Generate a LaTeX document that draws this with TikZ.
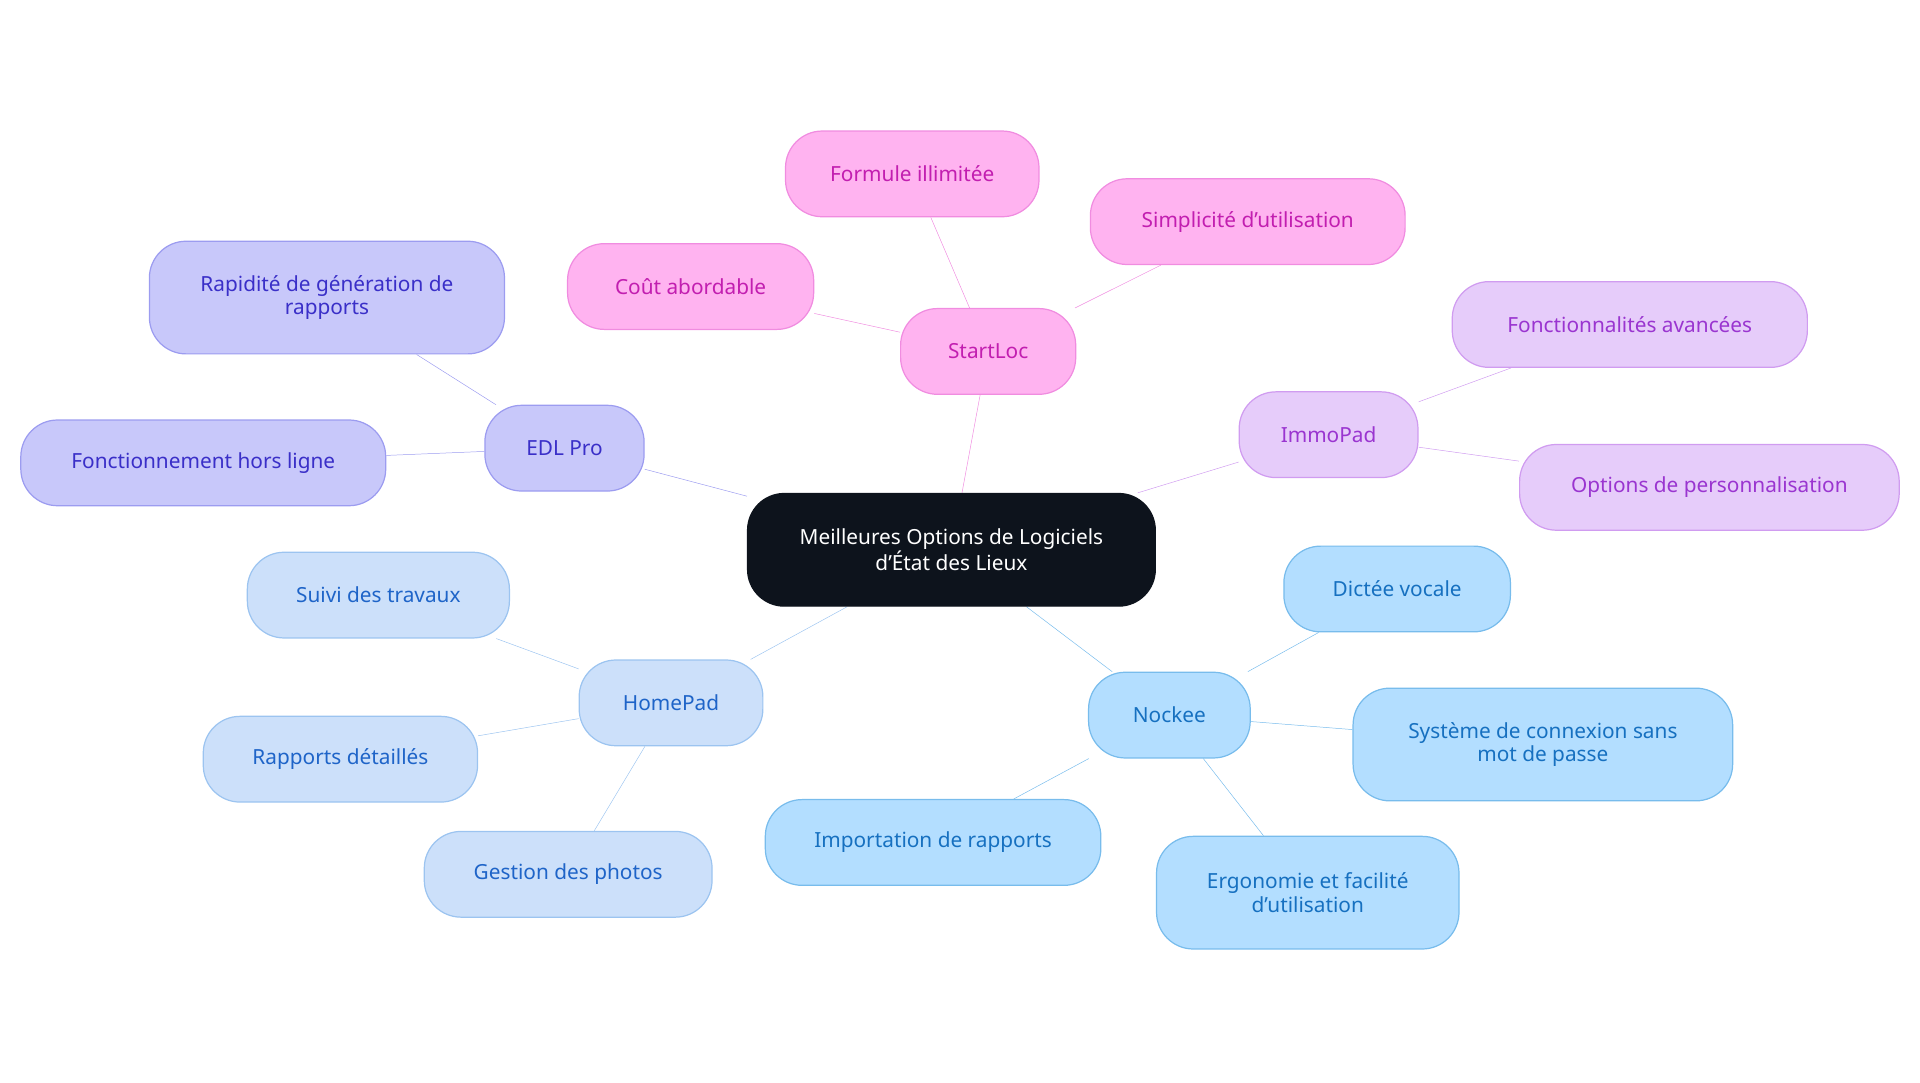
\documentclass[tikz,border=0pt]{standalone}
\usepackage{fontspec}
\setmainfont{Noto Sans}
\usetikzlibrary{backgrounds}
\definecolor{cC}{HTML}{0D131C}
\definecolor{eF}{HTML}{C8C8FA}\definecolor{eD}{HTML}{9C9CF0}\definecolor{eT}{HTML}{3A2FC8}
\definecolor{sF}{HTML}{FFB3F0}\definecolor{sD}{HTML}{F08CE0}\definecolor{sT}{HTML}{C21EB0}
\definecolor{iF}{HTML}{E6CCFA}\definecolor{iD}{HTML}{D09CF0}\definecolor{iT}{HTML}{9A35D0}
\definecolor{hF}{HTML}{CCE0FA}\definecolor{hD}{HTML}{9CC4F0}\definecolor{hT}{HTML}{1E64C8}
\definecolor{nF}{HTML}{B3DEFF}\definecolor{nD}{HTML}{78BCEC}\definecolor{nT}{HTML}{1670C0}
\tikzset{
 b/.style n args={3}{draw=#1,fill=#2,text=#3,rounded corners=30pt,line width=1pt,align=center,
   font=\fontsize{17}{19}\selectfont,inner sep=0pt},
 E/.style={b={eD}{eF}{eT}}, S/.style={b={sD}{sF}{sT}}, I/.style={b={iD}{iF}{iT}},
 H/.style={b={hD}{hF}{hT}}, N/.style={b={nD}{nF}{nT}},
 sz/.style 2 args={minimum width=#1pt,minimum height=#2pt},
 l/.style={line width=2.5pt}
}
\begin{document}
\begin{tikzpicture}[x=1pt,y=-1pt]
\useasboundingbox (0,0) rectangle (1568,884);
\node[b={cC}{cC}{white},sz={333}{92}] (c) at (777,449) {Meilleures Options de Logiciels\\d'État des Lieux};
\node[E,sz={130}{70}] (edl) at (461,366) {EDL Pro};
\node[E,sz={290}{92}] (e1) at (267,243) {Rapidité de génération de\\rapports};
\node[E,sz={298}{70}] (e2) at (166,378) {Fonctionnement hors ligne};
\node[S,sz={143}{70}] (st) at (807,287) {StartLoc};
\node[S,sz={207}{70}] (s1) at (745,142) {Formule illimitée};
\node[S,sz={201}{70}] (s2) at (564,234) {Coût abordable};
\node[S,sz={257}{70}] (s3) at (1019,181) {Simplicité d'utilisation};
\node[I,sz={146}{70}] (im) at (1085,355) {ImmoPad};
\node[I,sz={290}{70}] (i1) at (1331,265) {Fonctionnalités avancées};
\node[I,sz={310}{70}] (i2) at (1396,398) {Options de personnalisation};
\node[H,sz={150}{70}] (hp) at (548,574) {HomePad};
\node[H,sz={214}{70}] (h1) at (309,486) {Suivi des travaux};
\node[H,sz={224}{70}] (h2) at (278,620) {Rapports détaillés};
\node[H,sz={235}{70}] (h3) at (464,714) {Gestion des photos};
\node[N,sz={132}{70}] (nk) at (955,584) {Nockee};
\node[N,sz={185}{70}] (n1) at (1141,481) {Dictée vocale};
\node[N,sz={310}{92}] (n2) at (1260,608) {Système de connexion sans\\mot de passe};
\node[N,sz={274}{70}] (n3) at (762,688) {Importation de rapports};
\node[N,sz={247}{92}] (n4) at (1068,729) {Ergonomie et facilité\\d'utilisation};
\begin{scope}[on background layer,l]
\draw[eD] (c)--(edl) (edl)--(e1) (edl)--(e2);
\draw[sD] (c)--(st) (st)--(s1) (st)--(s2) (st)--(s3);
\draw[iD] (c)--(im) (im)--(i1) (im)--(i2);
\draw[hD] (c)--(hp) (hp)--(h1) (hp)--(h2) (hp)--(h3);
\draw[nD] (c)--(nk) (nk)--(n1) (nk)--(n2) (nk)--(n3) (nk)--(n4);
\end{scope}
\end{tikzpicture}
\end{document}
